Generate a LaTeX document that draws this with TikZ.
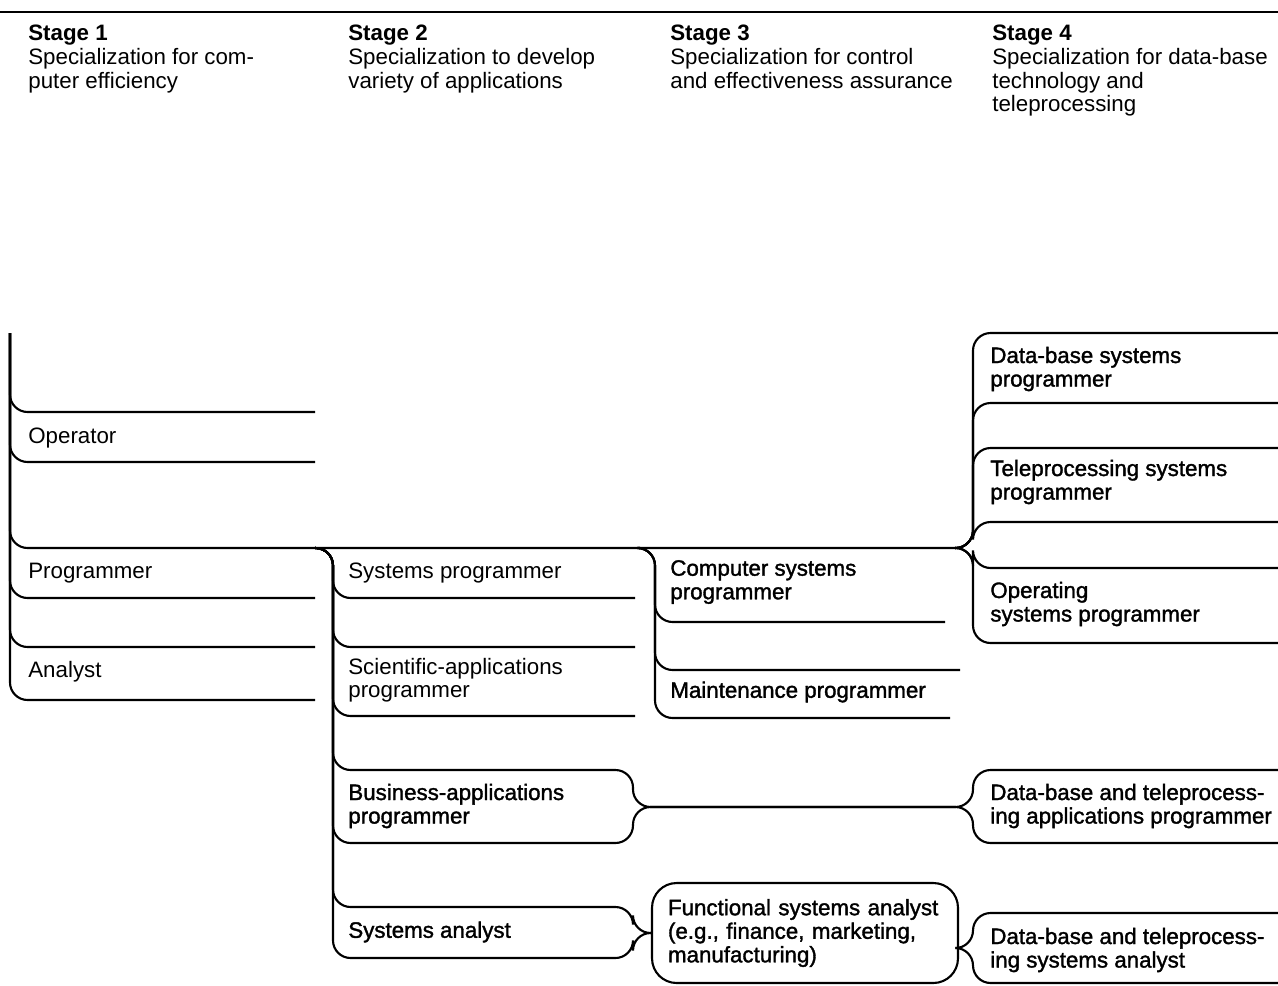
\documentclass[tikz,border=0pt]{standalone}
\usepackage{fontspec}
\setmainfont{Liberation Sans}
\newfontfamily\inkfont[FakeBold=1.5]{Liberation Sans}
\newcommand{\RowFont}{\fontsize{12.7}{13.4}\selectfont}
\tikzset{
    rowline/.style={line width=1.2pt, rounded corners=10},
    hdr/.style={anchor=north west, inner sep=0pt, align=left, font=\RowFont},
    lbl/.style={anchor=west, inner sep=0pt, align=left, font=\RowFont},
    inklbl/.style={lbl, font=\inkfont\RowFont},
    slotbox/.style={draw, line width=1.2pt, rounded corners=14,
        minimum width=6.12cm, minimum height=2cm, inner xsep=0.32cm,
        text width=5.48cm, align=left, font=\inkfont\RowFont},
}

\begin{document}
\begin{tikzpicture}[x=0.02cm,y=-0.02cm]

\useasboundingbox (0,0) rectangle (1278,985);

% =====================================================
% HEADER
% =====================================================
\draw[line width=1.4pt] (0,12) -- (1278,12);

\node[hdr] (stageA) at (28,25) {\textbf{Stage 1}\\Specialization for com-\\puter efficiency};
\node[hdr] (stageB) at (348,25) {\textbf{Stage 2}\\Specialization to develop\\variety of applications};
\node[hdr] (stageC) at (670,25) {\textbf{Stage 3}\\Specialization for control\\and effectiveness assurance};
\node[hdr] (stageD) at (992,25) {\textbf{Stage 4}\\Specialization for data-base\\technology and\\teleprocessing};

% =====================================================
% STAGE 1
% =====================================================
\foreach \y in {412,462,598,647,700} {
    \draw[rowline] (10,333) -- (10,\y) -- (315,\y);
}
% the long line that feeds the later stages
\draw[rowline] (10,333) -- (10,548) -- (955,548);

\node[lbl] (oper) at (28,438) {Operator};
\node[lbl] (prog) at (28,573) {Programmer};
\node[lbl] (anal) at (28,672) {Analyst};

% =====================================================
% STAGE 2
% =====================================================
\foreach \y in {598,647,716} {
    \draw[rowline] (315,548) -- (333,548) -- (333,\y) -- (635,\y);
}

% business applications, joined to stage 4
\draw[rowline] (315,548) -- (333,548) -- (333,770) -- (633,770) -- (633,807)
    -- (973,807) -- (973,770) -- (1278,770);
\draw[rowline] (315,548) -- (333,548) -- (333,843) -- (633,843) -- (633,807)
    -- (973,807) -- (973,843) -- (1278,843);

% systems analyst, joined to the functional box
\node[slotbox] (func) at (805,933) {Functional systems analyst\\(e.g., finance, marketing,\\manufacturing)};
\draw[rowline] (315,548) -- (333,548) -- (333,907) -- (633,907) -- (633,933) -- (func.west);
\draw[rowline] (315,548) -- (333,548) -- (333,958) -- (633,958) -- (633,933) -- (func.west);

\node[lbl] (sysprog) at (348,573) {Systems programmer};
\node[lbl] (sciapp) at (348,680) {Scientific-applications\\programmer};
\node[inklbl] (busapp) at (348,806) {Business-applications\\programmer};
\node[inklbl] (sysan) at (348,932) {Systems analyst};

% =====================================================
% STAGE 3
% =====================================================
\foreach \y/\e in {622/945,670/960,718/950} {
    \draw[rowline] (640,548) -- (655,548) -- (655,\y) -- (\e,\y);
}

\node[inklbl] (compsys) at (670,582) {Computer systems\\programmer};
\node[inklbl] (maint) at (670,692) {Maintenance programmer};

% =====================================================
% STAGE 4
% =====================================================
\foreach \y in {333,403,448,522,568,643} {
    \draw[rowline] (955,548) -- (973,548) -- (973,\y) -- (1278,\y);
}

% functional box to the data-base analyst
\draw[rowline] (958,948) -- (973,948) -- (973,913) -- (1278,913);
\draw[rowline] (958,948) -- (973,948) -- (973,983) -- (1278,983);

\node[inklbl] (dbsys) at (990,369) {Data-base systems\\programmer};
\node[inklbl] (tpsys) at (990,482) {Teleprocessing systems\\programmer};
\node[inklbl] (opsys) at (990,604) {Operating\\systems programmer};
\node[inklbl] (dbapp) at (990,806) {Data-base and teleprocess-\\ing applications programmer};
\node[inklbl] (dban) at (990,950) {Data-base and teleprocess-\\ing systems analyst};

\end{tikzpicture}
\end{document}
